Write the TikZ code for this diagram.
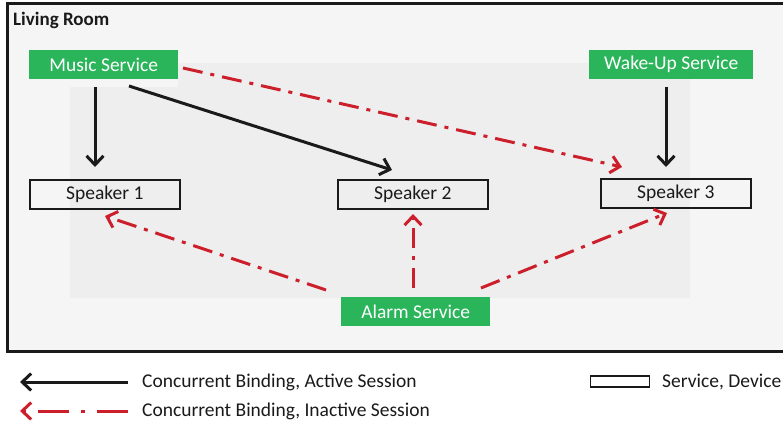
\documentclass[tikz,border=0pt]{standalone}
\usepackage{fontspec}
\setmainfont{Carlito}
\usetikzlibrary{arrows.meta}
\definecolor{bgroom}{HTML}{F5F5F5}
\definecolor{bginner}{HTML}{EEEEEE}
\definecolor{svcgreen}{HTML}{2BB55B}
\definecolor{inred}{HTML}{CC1F2B}
\definecolor{actblack}{HTML}{1A1A1A}
\tikzset{
  svc/.style={fill=svcgreen, text=white, minimum width=149pt, minimum height=29pt, inner sep=0pt, font=\fontsize{19.5}{21}\selectfont, anchor=north west},
  dev/.style={draw=actblack, line width=1.6pt, minimum width=150pt, minimum height=29pt, inner sep=0pt, font=\fontsize{19.5}{21}\selectfont, text=actblack, anchor=north west},
  active/.style={draw=actblack, line width=3pt, -{Straight Barb[length=9pt,width=17pt,line width=3pt]}},
  inactive/.style={draw=inred, line width=3pt, dash pattern=on 20pt off 8pt on 4pt off 8pt, -{Straight Barb[length=9pt,width=17pt,line width=3pt]}},
  lbl/.style={font=\fontsize{19.5}{21}\selectfont, text=actblack, anchor=west, inner sep=0pt},
}
\begin{document}
\begin{tikzpicture}[x=1pt,y=-1pt]
\useasboundingbox (0,0) rectangle (783,425);
\fill[white] (0,0) rectangle (783,425);
% room
\fill[bgroom] (7,4) rectangle (790,351);
\fill[bginner] (178,63) rectangle (690,298);
\fill[bginner] (70,87) rectangle (178,298);
\draw[actblack, line width=3pt] (7,4) rectangle (790,351);
\node[anchor=west, font=\bfseries\fontsize{19}{21}\selectfont, text=actblack, inner sep=0pt] (room) at (13,20) {Living Room};
% services
\node[svc] (music) at (29,50) {Music Service};
\node[svc, minimum width=164pt] (wake) at (589,50) {Wake-Up Service};
\node[svc] (alarm) at (341,297) {Alarm Service};
% devices
\node[dev] (sp1) at (29,179) {Speaker 1};
\node[dev] (sp2) at (337,179) {Speaker 2};
\node[dev] (sp3) at (600,178) {Speaker 3};
% anchor points
\coordinate (m1) at (95,87);
\coordinate (s1t) at (95,167);
\coordinate (m2) at (129,86);
\coordinate (s2t) at (392,170);
\coordinate (m3) at (183,68);
\coordinate (s3t) at (622,167);
\coordinate (w1) at (666,87);
\coordinate (s3w) at (666,167);
\coordinate (a1) at (326,290);
\coordinate (s1b) at (105,216);
\coordinate (a2) at (413,288);
\coordinate (s2b) at (413,214);
\coordinate (a3) at (481,288);
\coordinate (s3b) at (667,213);
% connectors
\draw[active] (m1) -- (s1t);
\draw[active] (m2) -- (s2t);
\draw[inactive] (m3) -- (s3t);
\draw[active] (w1) -- (s3w);
\draw[inactive] (a1) -- (s1b);
\draw[inactive] (a2) -- (s2b);
\draw[inactive] (a3) -- (s3b);
% legend
\coordinate (la1) at (128,382);
\coordinate (la2) at (20,382);
\coordinate (lb1) at (128,411);
\coordinate (lb2) at (20,411);
\draw[active] (la1) -- (la2);
\draw[inactive, dash pattern=on 31pt off 12pt on 4pt off 12pt] (lb1) -- (lb2);
\node[lbl] (lt1) at (142,382) {Concurrent Binding, Active Session};
\node[lbl] (lt2) at (142,411) {Concurrent Binding, Inactive Session};
\node[draw=actblack, line width=1.4pt, minimum width=59pt, minimum height=11pt, inner sep=0pt] (lbox) at (620,381.5) {};
\node[lbl] (lt3) at (662,382) {Service, Device};
\end{tikzpicture}
\end{document}
